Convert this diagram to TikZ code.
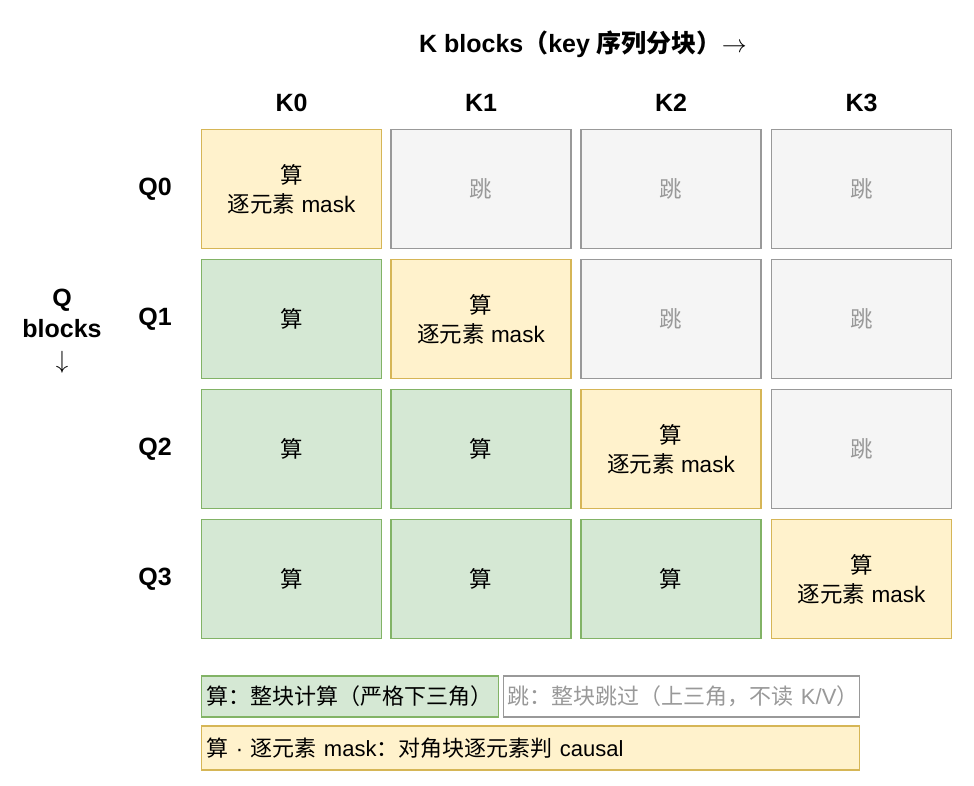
\documentclass[tikz,border=0pt]{standalone}
\usepackage{fontspec}
\setmainfont{Liberation Sans}
\newfontfamily\cjk{Noto Sans CJK SC}
\newfontfamily\cjkb{Noto Sans CJK SC Bold}
\definecolor{yf}{HTML}{FFF2CC}\definecolor{yd}{HTML}{D6B656}
\definecolor{gf}{HTML}{D5E8D4}\definecolor{gd}{HTML}{82B366}
\definecolor{sf}{HTML}{F5F5F5}\definecolor{sd}{HTML}{999999}
\definecolor{st}{HTML}{999999}
\tikzset{
 cell/.style={draw, line width=1.3pt, minimum width=180pt, minimum height=119pt, inner sep=0pt, align=center, font=\fontsize{22.5}{29}\selectfont},
 calc/.style={cell, fill=gf, draw=gd},
 diag/.style={cell, fill=yf, draw=yd},
 skip/.style={cell, fill=sf, draw=sd, text=st},
 hdr/.style={font=\fontsize{25}{31}\selectfont\bfseries, align=center},
 leg/.style={draw, line width=1.3pt, anchor=west, inner sep=0pt, minimum height=41pt, font=\fontsize{22}{26}\selectfont, text width=#1, align=left},
}
\newcommand{\Suan}{{\cjk 算}}
\newcommand{\Tiao}{{\cjk 跳}}
\newcommand{\DiagT}{{\cjk 算}\\{\cjk 逐元素} mask}
\begin{document}
\begin{tikzpicture}[x=1pt,y=-1pt]
\useasboundingbox (0,0) rectangle (974,785);
\node[hdr] (title) at (583,44) {K blocks{\cjkb （}key {\cjkb 序列分块）}$\rightarrow$};
\node[hdr] (q) at (62,331) {Q\\blocks\\$\downarrow$};
\foreach \i/\x in {0/291.5,1/481,2/671,3/861.5}{\node[hdr] (k\i) at (\x,103) {K\i};}
\foreach \j/\y in {0/189,1/319,2/449,3/579}{\node[hdr] (q\j) at (155,\y) {Q\j};}
\node[diag] (c00) at (291.5,189) {\DiagT};
\node[skip] (c01) at (481,189) {\Tiao};
\node[skip] (c02) at (671,189) {\Tiao};
\node[skip] (c03) at (861.5,189) {\Tiao};
\node[calc] (c10) at (291.5,319) {\Suan};
\node[diag] (c11) at (481,319) {\DiagT};
\node[skip] (c12) at (671,319) {\Tiao};
\node[skip] (c13) at (861.5,319) {\Tiao};
\node[calc] (c20) at (291.5,449) {\Suan};
\node[calc] (c21) at (481,449) {\Suan};
\node[diag] (c22) at (671,449) {\DiagT};
\node[skip] (c23) at (861.5,449) {\Tiao};
\node[calc] (c30) at (291.5,579) {\Suan};
\node[calc] (c31) at (481,579) {\Suan};
\node[calc] (c32) at (671,579) {\Suan};
\node[diag] (c33) at (861.5,579) {\DiagT};
\node[leg=297pt, fill=gf, draw=gd] (l1) at (201,696.5) {\hspace{5pt}{\cjk 算：整块计算（严格下三角）}};
\node[leg=356pt, fill=white, draw=sd, text=st] (l2) at (503,696.5) {\hspace{4pt}{\cjk 跳：整块跳过（上三角，不读} K/V{\cjk ）}};
\node[leg=658pt, fill=yf, draw=yd, minimum height=44pt] (l3) at (201,748) {\hspace{5pt}{\cjk 算} · {\cjk 逐元素} mask{\cjk ：对角块逐元素判} causal};
\end{tikzpicture}
\end{document}
